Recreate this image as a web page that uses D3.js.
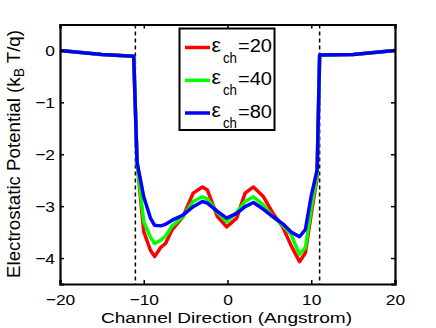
<!DOCTYPE html>
<html><head><meta charset="utf-8">
<script src="https://cdn.jsdelivr.net/npm/d3@7"></script>
<style>body{margin:0;background:#fff}svg{display:block}text{font-family:"Liberation Sans",Arial,sans-serif}</style>
</head><body>
<script>
const xs = [-20, -15, -11.2, -10.8, -10, -9.2, -8.7, -8, -7.4, -6.6, -5.3, -4.1, -3, -2.4, -1.2, -0.1, 1.1, 2.1, 3.1, 4.3, 5.4, 6.6, 7.6, 8.6, 9.3, 10, 10.7, 11, 15, 20];
const eps20 = [0, -0.08, -0.11, -2.15, -3.49, -3.85, -3.97, -3.80, -3.72, -3.45, -3.2, -2.75, -2.63, -2.69, -3.2, -3.4, -3.23, -2.75, -2.63, -2.82, -3.13, -3.4, -3.76, -4.07, -3.9, -3.15, -2.45, -0.09, -0.08, 0];
const eps40 = [0, -0.08, -0.11, -2.15, -3.3, -3.6, -3.72, -3.66, -3.58, -3.38, -3.2, -2.91, -2.82, -2.86, -3.12, -3.3, -3.12, -2.91, -2.82, -2.98, -3.2, -3.37, -3.55, -3.93, -3.8, -3.05, -2.4, -0.09, -0.08, 0];
const eps80 = [0, -0.08, -0.11, -2.15, -2.82, -3.23, -3.37, -3.38, -3.35, -3.27, -3.17, -3.01, -2.91, -2.94, -3.1, -3.23, -3.14, -3.01, -2.93, -3.06, -3.2, -3.34, -3.5, -3.59, -3.45, -2.8, -2.3, -0.09, -0.08, 0];
const seriesNames = ["20", "40", "80"];
const seriesColors = ["#ff0000", "#00ff00", "#0000ff"];
const xTicks = [-20, -10, 0, 10, 20];
const yTicks = [-4, -3, -2, -1, 0];
const channelEdges = [-11, 11];

const W = 436, H = 328;
const L = 60, R = 395, T = 24.5, B = 284;
const svg = d3.select("body").append("svg").attr("width", W).attr("height", H);
const x = d3.scaleLinear().domain([-20, 20]).range([L, R]);
const y = d3.scaleLinear().domain([-4.5, 0.5]).range([B, T]);

// dashed channel edges
svg.selectAll("line.edge").data(channelEdges).enter().append("line")
  .attr("x1", d => x(d)).attr("x2", d => x(d)).attr("y1", T).attr("y2", B)
  .attr("stroke", "#000").attr("stroke-width", 1.5).attr("stroke-dasharray", "4,3");

const series = [eps20, eps40, eps80];
const line = d3.line().x((d, i) => x(xs[i])).y(d => y(d));
series.forEach((s, k) => {
  svg.append("path").datum(s).attr("d", line).attr("fill", "none")
    .attr("stroke", seriesColors[k]).attr("stroke-width", 3.5).attr("stroke-linejoin", "round");
});

// axes (MATLAB-style box with inward ticks)
const ax = svg.append("g");
const fs = 15.5;
const fmt = d => d < 0 ? "\u2212" + Math.abs(d) : d;
const xb = ax.append("g").attr("transform", `translate(0,${B})`)
  .call(d3.axisBottom(x).tickValues(xTicks).tickSize(-4).tickPadding(9.5).tickFormat(fmt));
const xt = ax.append("g").attr("transform", `translate(0,${T})`)
  .call(d3.axisTop(x).tickValues(xTicks).tickSize(-4).tickFormat(""));
const yl = ax.append("g").attr("transform", `translate(${L},0)`)
  .call(d3.axisLeft(y).tickValues(yTicks).tickSize(-4).tickPadding(5).tickFormat(fmt));
const yr = ax.append("g").attr("transform", `translate(${R},0)`)
  .call(d3.axisRight(y).tickValues(yTicks).tickSize(-4).tickFormat(""));
[xb, xt, yl, yr].forEach(g => {
  g.select(".domain").attr("stroke", "#000").attr("stroke-width", 2.2);
  g.selectAll(".tick line").attr("stroke", "#000").attr("stroke-width", 1.5);
  g.selectAll(".tick text").attr("font-size", fs).attr("fill", "#000").attr("font-family", "Liberation Sans, Arial, sans-serif")
    .attr("textLength", function() { return this.getComputedTextLength() * 1.12; })
    .attr("lengthAdjust", "spacingAndGlyphs");
});
yl.selectAll(".tick text").attr("dy", "0.35em");

// axis titles
svg.append("text").attr("x", 101).attr("y", 322.5)
  .attr("font-size", 15.5).attr("textLength", 251).attr("lengthAdjust", "spacingAndGlyphs")
  .text("Channel Direction (Angstrom)");
const yt = svg.append("text").attr("transform", `translate(20,278) rotate(-90)`)
  .attr("font-size", 19).attr("textLength", 248).attr("lengthAdjust", "spacingAndGlyphs");
yt.append("tspan").text("Electrostatic Potential (k");
yt.append("tspan").attr("font-size", 14).attr("dy", 4).text("B");
yt.append("tspan").attr("dy", -4).text(" T/q)");

// legend
const lg = svg.append("g");
lg.append("rect").attr("x", 179.5).attr("y", 28.5).attr("width", 95).attr("height", 101.5)
  .attr("fill", "#fff").attr("stroke", "#000").attr("stroke-width", 2);
const rowY = [47.5, 80.3, 113];
seriesNames.forEach((n, k) => {
  lg.append("line").attr("x1", 185).attr("x2", 210).attr("y1", rowY[k]).attr("y2", rowY[k])
    .attr("stroke", seriesColors[k]).attr("stroke-width", 3.5);
  lg.append("text").attr("x", 211.5).attr("y", rowY[k] + 4).attr("font-size", 21).text("\u03b5");
  lg.append("text").attr("x", 223).attr("y", rowY[k] + 15).attr("font-size", 14.5)
    .attr("textLength", 14).attr("lengthAdjust", "spacingAndGlyphs").text("ch");
  lg.append("text").attr("x", 238).attr("y", rowY[k] + 4.5).attr("font-size", 18.5)
    .attr("textLength", 34).attr("lengthAdjust", "spacingAndGlyphs").text("=" + n);
});
</script>
</body></html>
